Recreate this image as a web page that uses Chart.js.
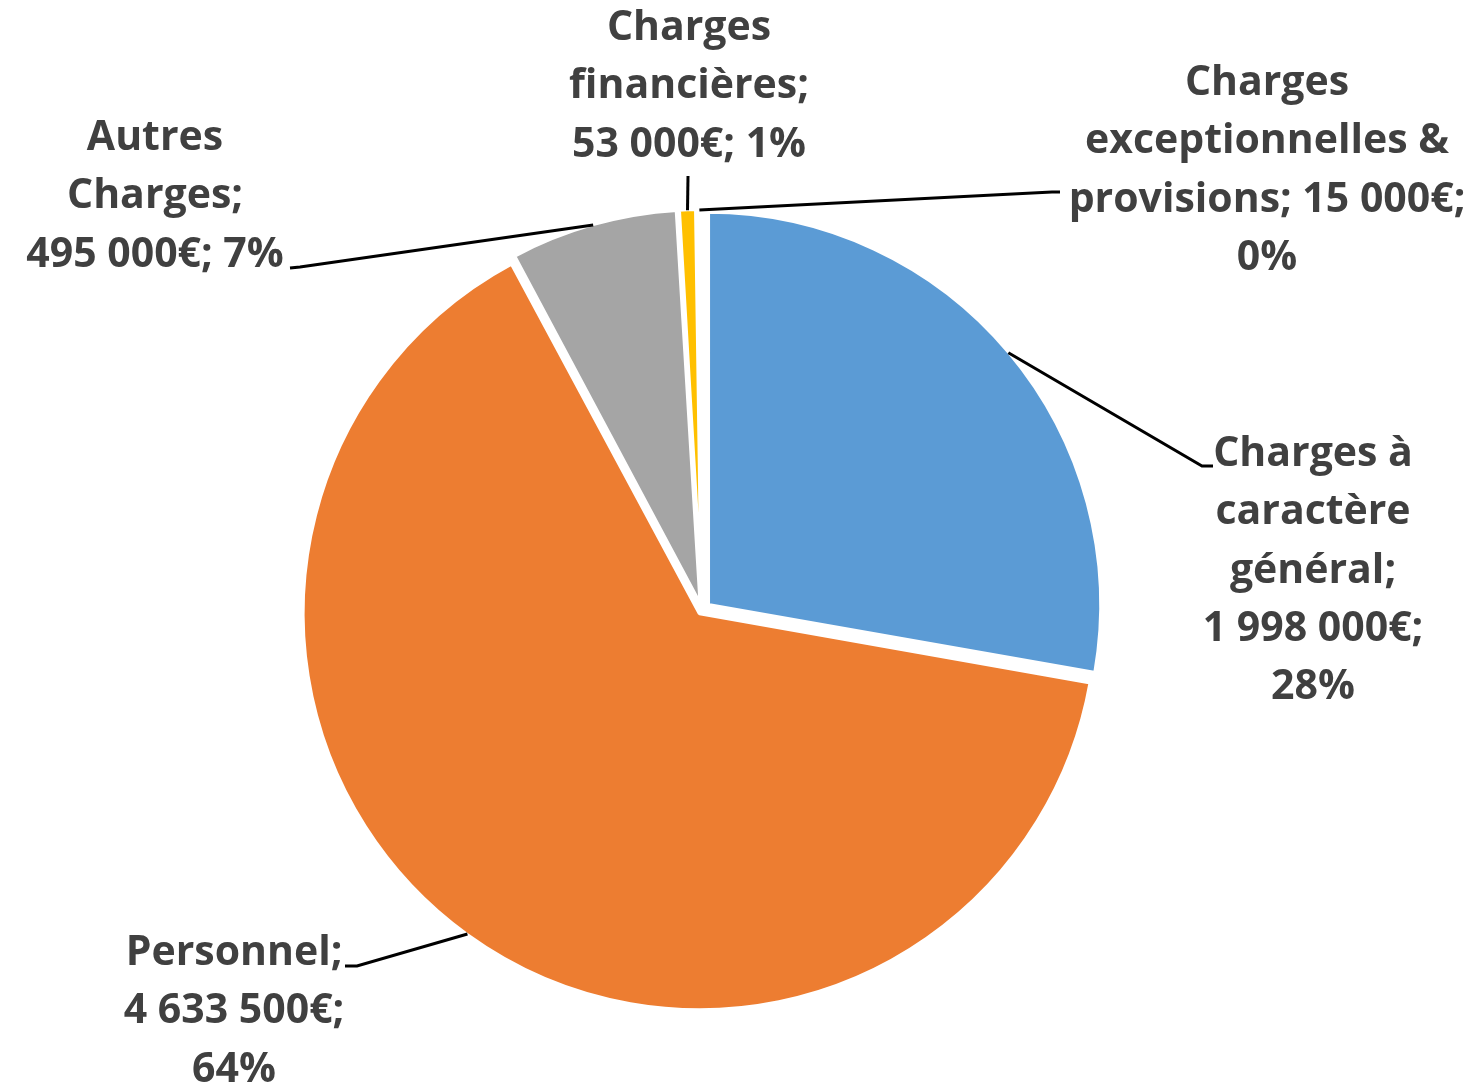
<!DOCTYPE html>
<html>
<head>
<meta charset="utf-8">
<script src="https://cdn.jsdelivr.net/npm/chart.js@4.4.1/dist/chart.umd.min.js"></script>
<style>
  html, body { margin: 0; padding: 0; background: #ffffff; }
  #wrap { position: relative; width: 1484px; height: 1088px; }
</style>
</head>
<body>
<div id="wrap"><canvas id="c"></canvas></div>
<script>
// ---- data ----
const categories = [
  "Charges à caractère général",
  "Personnel",
  "Autres Charges",
  "Charges financières",
  "Charges exceptionnelles & provisions"
];
const values = [1998000, 4633500, 495000, 53000, 15000];
const colors = ["#5B9BD5", "#ED7D31", "#A5A5A5", "#FFC000", "#4472C4"];

// ---- layout (label placement, not data) ----
const wordsPerLine = [[2,1,1,1,1], [1,1,1], [1,1,2], [1,1,2], [1,2,2,1]];
const labelPos = [
  { cx: 1313, y0: 466 },
  { cx: 234,  y0: 965 },
  { cx: 155,  y0: 150 },
  { cx: 689,  y0: 40 },
  { cx: 1267, y0: 95 }
];
const leaderPts = [
  [[1202, 466], [1213, 466]],
  [[357, 966], [345, 966]],
  [[300, 267], [290, 268]],
  [[688, 176]],
  [[1052, 192], [1060, 192]]
];
const EXPLODE = 8;
const LINE_H = 58.3;
const FONT = "bold 41px 'Open Sans'";

const total = values.reduce((a, b) => a + b, 0);
function fmt(n) {
  return String(n).replace(/\B(?=(\d{3})+(?!\d))/g, "\u00A0");
}
function labelLines(i) {
  const pct = Math.round(values[i] / total * 100);
  const full = categories[i] + "; " + fmt(values[i]) + "€; " + pct + "%";
  const words = full.split(" ");
  const out = [];
  let k = 0;
  for (const n of wordsPerLine[i]) {
    out.push(words.slice(k, k + n).join(" "));
    k += n;
  }
  return out;
}

const labelPlugin = {
  id: 'pieLabels',
  afterDatasetsDraw(chart) {
    const ctx = chart.ctx;
    const meta = chart.getDatasetMeta(0);
    ctx.save();
    meta.data.forEach((arc, i) => {
      const p = arc.getProps(['x', 'y', 'startAngle', 'endAngle', 'outerRadius'], true);
      const mid = (p.startAngle + p.endAngle) / 2;
      const rr = p.outerRadius + EXPLODE - 1;
      const sx = p.x + Math.cos(mid) * rr;
      const sy = p.y + Math.sin(mid) * rr;
      ctx.beginPath();
      ctx.strokeStyle = "#000000";
      ctx.lineWidth = 3;
      ctx.lineJoin = "miter";
      ctx.moveTo(sx, sy);
      leaderPts[i].forEach(pt => ctx.lineTo(pt[0], pt[1]));
      ctx.stroke();

      const lines = labelLines(i);
      ctx.font = FONT;
      ctx.fillStyle = "#404040";
      ctx.textAlign = "center";
      ctx.textBaseline = "alphabetic";
      lines.forEach((ln, j) => {
        ctx.fillText(ln, labelPos[i].cx, labelPos[i].y0 + j * LINE_H);
      });
    });
    ctx.restore();
  }
};

new Chart(document.getElementById('c'), {
  type: 'pie',
  data: {
    labels: categories,
    datasets: [{
      data: values,
      backgroundColor: colors,
      borderColor: "#ffffff",
      borderWidth: 4,
      offset: (c) => {
        const circ = 2 * Math.PI * c.parsed / total;
        const fix = 1 - Math.sin(Math.min(Math.PI, circ));
        return EXPLODE * 4 / (1 + fix);
      }
    }]
  },
  options: {
    responsive: true,
    maintainAspectRatio: false,
    animation: false,
    radius: 393,
    layout: { padding: { left: 0, right: 80, top: 132, bottom: 0 } },
    plugins: {
      legend: { display: false },
      tooltip: { enabled: false }
    }
  },
  plugins: [labelPlugin]
});
</script>
</body>
</html>
